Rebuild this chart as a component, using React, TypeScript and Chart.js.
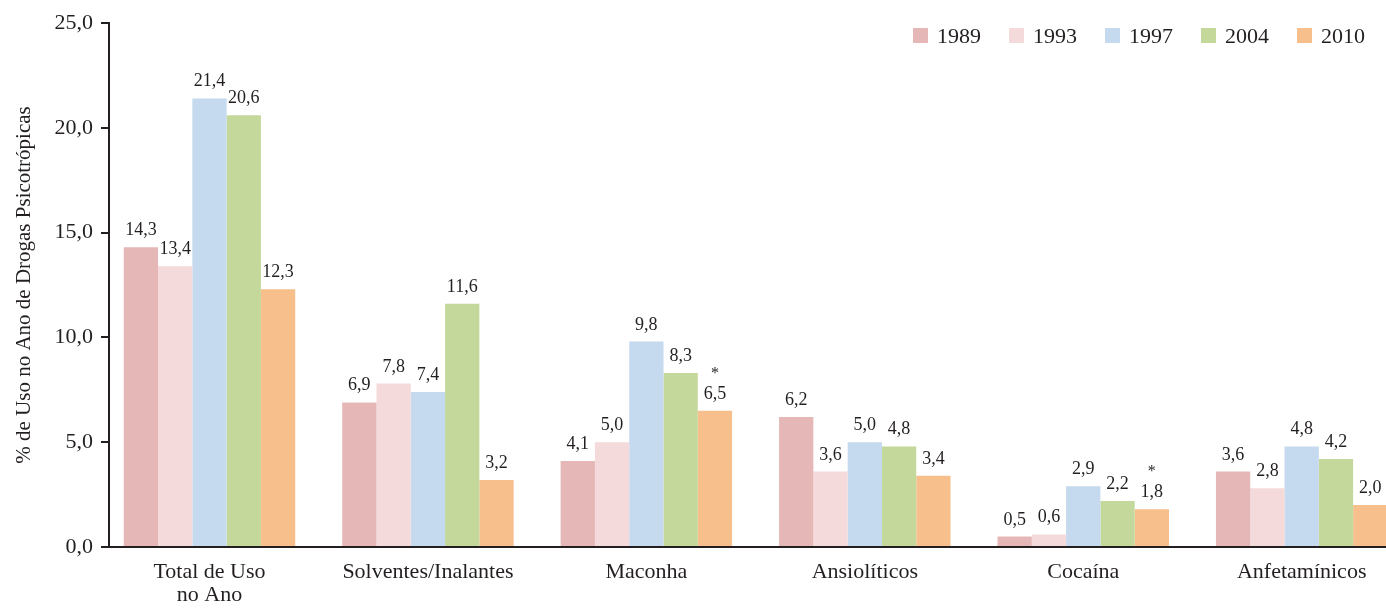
import React, { useEffect, useRef } from 'react';
import { Chart, registerables } from 'chart.js';

Chart.register(...registerables);

const categories: (string | string[])[] = [
  ['Total de Uso', 'no Ano'],
  'Solventes/Inalantes',
  'Maconha',
  'Ansiolíticos',
  'Cocaína',
  'Anfetamínicos',
];
const years = ['1989', '1993', '1997', '2004', '2010'];
const v1989 = [14.3, 6.9, 4.1, 6.2, 0.5, 3.6];
const v1993 = [13.4, 7.8, 5.0, 3.6, 0.6, 2.8];
const v1997 = [21.4, 7.4, 9.8, 5.0, 2.9, 4.8];
const v2004 = [20.6, 11.6, 8.3, 4.8, 2.2, 4.2];
const v2010 = [12.3, 3.2, 6.5, 3.4, 1.8, 2.0];
const significant2010 = [false, false, true, false, true, false];
const yTicks = [0, 5, 10, 15, 20, 25];
const yTitle = '% de Uso no Ano de Drogas Psicotrópicas';

const seriesValues = [v1989, v1993, v1997, v2004, v2010];
const colors = ['#e5b7b7', '#f4dada', '#c5daef', '#c4d89c', '#f6bf8c'];

const FONT = "'Liberation Serif', 'DejaVu Serif', serif";
const INK = '#231f20';

const fmt = (v: number) => v.toFixed(1).replace('.', ',');

const labelsPlugin = {
  id: 'valueLabels',
  afterDatasetsDraw(chart: any) {
    const ctx = chart.ctx;
    ctx.save();
    ctx.fillStyle = INK;
    ctx.textAlign = 'center';
    ctx.textBaseline = 'alphabetic';
    chart.data.datasets.forEach((ds: any, i: number) => {
      const meta = chart.getDatasetMeta(i);
      meta.data.forEach((bar: any, j: number) => {
        const val = seriesValues[i][j];
        ctx.font = `18px ${FONT}`;
        ctx.fillText(fmt(val), bar.x, bar.y - 12);
        if (i === 4 && significant2010[j]) {
          ctx.font = `16px ${FONT}`;
          ctx.fillText('*', bar.x, bar.y - 12 - 21);
        }
      });
    });
    ctx.restore();
  },
};

const legendPlugin = {
  id: 'customLegend',
  afterDraw(chart: any) {
    const ctx = chart.ctx;
    const area = chart.chartArea;
    ctx.save();
    ctx.font = `22px ${FONT}`;
    ctx.textAlign = 'left';
    ctx.textBaseline = 'alphabetic';
    let x = area.right - 473;
    years.forEach((y, i) => {
      ctx.fillStyle = colors[i];
      ctx.fillRect(x, 28, 15, 15);
      ctx.fillStyle = INK;
      ctx.fillText(y, x + 24, 43);
      x += 96;
    });
    ctx.restore();
  },
};

export default function App() {
  const ref = useRef<HTMLCanvasElement | null>(null);

  useEffect(() => {
    document.body.style.margin = '0';
    const canvas = ref.current;
    if (!canvas) return;
    const chart = new Chart(canvas, {
      type: 'bar',
      data: {
        datasets: years.map((y, i) => ({
          label: y,
          data: seriesValues[i].map((v, k) => ({ x: k, y: v })),
          backgroundColor: colors[i],
          borderWidth: 0,
          categoryPercentage: 0.785,
          barPercentage: 1,
        })),
      },
      options: {
        responsive: false,
        animation: false,
        devicePixelRatio: 1,
        layout: { padding: { top: 23, right: 0, left: 0, bottom: 0 } },
        plugins: {
          legend: { display: false },
          tooltip: { enabled: false },
        },
        scales: {
          x: {
            type: 'linear',
            offset: false,
            min: -0.46,
            max: 5.386,
            grid: { display: false, drawTicks: false, offset: false },
            border: { display: true, color: INK, width: 2 },
            afterBuildTicks: (scale: any) => {
              scale.ticks = categories.map((_, i) => ({ value: i }));
            },
            afterFit: (scale: any) => {
              scale.height = 63;
            },
            ticks: {
              autoSkip: false,
              maxRotation: 0,
              minRotation: 0,
              padding: 14,
              color: INK,
              font: { family: FONT, size: 22, lineHeight: 1.05 },
              callback: (value: any) => categories[Math.round(Number(value))] as any,
            },
          },
          y: {
            type: 'linear',
            min: 0,
            max: 25,
            afterBuildTicks: (scale: any) => {
              scale.ticks = yTicks.map((v) => ({ value: v }));
            },
            afterFit: (scale: any) => {
              scale.width = 109;
            },
            grid: {
              display: true,
              drawOnChartArea: false,
              drawTicks: true,
              tickLength: 8,
              color: INK,
              lineWidth: 2,
            },
            border: { display: true, color: INK, width: 2 },
            ticks: {
              padding: 8,
              color: INK,
              font: { family: FONT, size: 22 },
              callback: (value: any) => fmt(Number(value)),
            },
            title: {
              display: true,
              text: yTitle,
              color: INK,
              font: { family: FONT, size: 21 },
              padding: { top: 12, bottom: 0 },
            },
          },
        },
      },
      plugins: [labelsPlugin, legendPlugin],
    } as any);
    return () => chart.destroy();
  }, []);

  return (
    <div style={{ width: 1386, height: 610, position: 'relative', background: '#fff' }}>
      <canvas ref={ref} width={1386} height={610} style={{ display: 'block' }} />
    </div>
  );
}
